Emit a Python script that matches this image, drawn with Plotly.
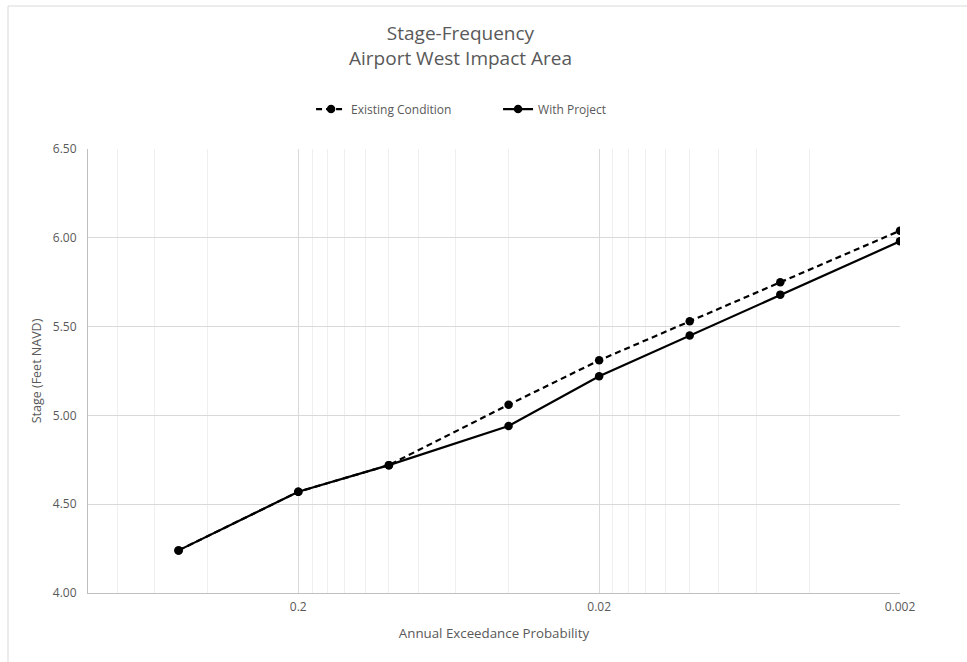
import plotly.graph_objects as go

aep = [0.5, 0.2, 0.1, 0.04, 0.02, 0.01, 0.005, 0.002]
existing = [4.24, 4.57, 4.72, 5.06, 5.31, 5.53, 5.75, 6.04]
with_project = [4.24, 4.57, 4.72, 4.94, 5.22, 5.45, 5.68, 5.98]

major_ticks = [0.2, 0.02, 0.002]
major_labels = ["0.2", "0.02", "0.002"]
minor_ticks = [0.8, 0.6, 0.4,
               0.18, 0.16, 0.14, 0.12, 0.1, 0.08, 0.06, 0.04,
               0.018, 0.016, 0.014, 0.012, 0.01, 0.008, 0.006, 0.004]
y_ticks = [4.0, 4.5, 5.0, 5.5, 6.0, 6.5]

FONT = "Open Sans"
GRAY = "#595959"

fig = go.Figure()
fig.add_trace(go.Scatter(
    x=aep, y=existing, mode="lines+markers", name="Existing Condition",
    line=dict(color="black", width=2.2, dash="6px,4px"),
    marker=dict(color="black", size=8.5),
))
fig.add_trace(go.Scatter(
    x=aep, y=with_project, mode="lines+markers", name="With Project",
    line=dict(color="black", width=2.2),
    marker=dict(color="black", size=8.5),
))

fig.update_layout(
    width=967, height=662,
    margin=dict(l=88, r=67, t=149, b=69),
    paper_bgcolor="white", plot_bgcolor="white",
    font=dict(family=FONT, color=GRAY, size=12),
    legend=dict(
        orientation="h", x=0.505, xanchor="center", y=1.090, yanchor="middle",
        font=dict(size=12, color=GRAY), entrywidth=142,
    ),
    showlegend=True,
)

fig.add_annotation(
    text="Stage-Frequency<br>Airport West Impact Area",
    xref="paper", yref="paper", x=0.459, y=(593 - 45.5) / 444,
    xanchor="center", yanchor="middle", showarrow=False,
    font=dict(size=19, color=GRAY, family=FONT),
)

fig.update_xaxes(
    type="log", range=[0, -2.69897],
    tickvals=major_ticks, ticktext=major_labels,
    showgrid=True, gridcolor="#d9d9d9", gridwidth=1,
    minor=dict(tickmode="array", tickvals=minor_ticks, showgrid=True,
               gridcolor="#efefef", gridwidth=1, ticks=""),
    showline=True, linecolor="#bfbfbf", linewidth=1,
    ticks="outside", ticklen=3, tickcolor="rgba(0,0,0,0)", zeroline=False,
    title=dict(text="Annual Exceedance Probability", font=dict(size=13.3, color=GRAY), standoff=14),
    tickfont=dict(size=12, color=GRAY),
)
fig.update_yaxes(
    range=[4.0, 6.5], tickvals=y_ticks, tickformat=".2f",
    showgrid=True, gridcolor="#d9d9d9", gridwidth=1,
    showline=True, linecolor="#bfbfbf", linewidth=1,
    ticks="outside", ticklen=8, tickcolor="rgba(0,0,0,0)", zeroline=False,
    title=dict(text="Stage (Feet NAVD)", font=dict(size=12.5, color=GRAY), standoff=8),
    tickfont=dict(size=12, color=GRAY),
)

# chart-area border (Excel style)
fig.add_shape(type="rect", xref="paper", yref="paper",
              x0=(8 - 88) / 812, x1=1.5, y0=-0.5, y1=(593 - 6) / 444,
              line=dict(color="#d9d9d9", width=1), layer="below")

fig.write_html("out.html")
